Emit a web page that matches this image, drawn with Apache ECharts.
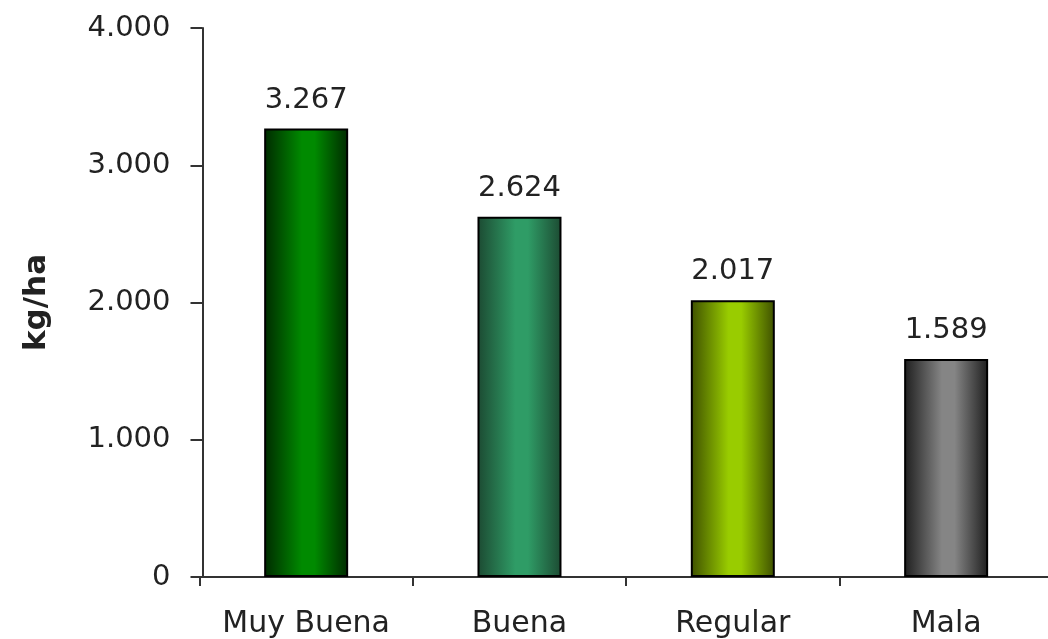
<!DOCTYPE html>
<html><head><meta charset="utf-8">
<script src="https://cdn.jsdelivr.net/npm/echarts@6/dist/echarts.min.js"></script>
<style>html,body{margin:0;padding:0;background:#fff}#c{width:1048px;height:639px}</style>
</head><body><div id="c"></div>
<script>
const categories = ['Muy Buena', 'Buena', 'Regular', 'Mala'];
const values = [3267, 2624, 2017, 1589];
const yTicks = [0, 1000, 2000, 3000, 4000];
const barColors = [
  ['#002a00', '#008a00'],
  ['#1c4a32', '#2f9c66'],
  ['#3e5000', '#99cc00'],
  ['#1e1e1e', '#858585']
];
function fmt(v){ return String(v).replace(/\B(?=(\d{3})+(?!\d))/g, '.'); }
function grad(edge, mid){
  return new echarts.graphic.LinearGradient(0,0,1,0,[
    {offset:0,color:edge},{offset:0.45,color:mid},{offset:0.6,color:mid},{offset:1,color:edge}
  ]);
}
const chart = echarts.init(document.getElementById('c'));
chart.setOption({
  animation:false,
  grid:{left:199.5, top:28, width:853.3, height:549, outerBoundsMode:'none', containLabel:false},
  xAxis:{
    type:'category', data:categories,
    axisLine:{lineStyle:{color:'#333',width:2}},
    axisTick:{show:true, interval:0, length:9, lineStyle:{color:'#333',width:2}},
    axisLabel:{interval:0, hideOverlap:false, color:'#222', fontFamily:'DejaVu Sans', fontSize:30, margin:32}
  },
  yAxis:{
    type:'value', min:yTicks[0], max:yTicks[yTicks.length-1], interval:1000,
    offset:-3,
    name:'kg/ha', nameLocation:'middle', nameGap:150, nameRotate:90,
    nameTextStyle:{color:'#222', fontFamily:'DejaVu Sans', fontSize:31, fontWeight:'bold'},
    axisLine:{show:true, lineStyle:{color:'#333',width:2}},
    axisTick:{show:true, length:12, lineStyle:{color:'#333',width:2}},
    splitLine:{show:false},
    axisLabel:{color:'#222', fontFamily:'DejaVu Sans', fontSize:29, margin:32, formatter:v=>fmt(v)}
  },
  series:[{
    type:'bar', barWidth:84,
    data: values.map((v,i)=>({value:v, itemStyle:{color:grad(barColors[i][0], barColors[i][1])}})),
    itemStyle:{borderColor:'#000', borderWidth:2},
    label:{show:true, position:'top', distance:14, color:'#222', fontFamily:'DejaVu Sans', fontSize:29, formatter:p=>fmt(p.value)}
  }]
});
</script></body></html>
